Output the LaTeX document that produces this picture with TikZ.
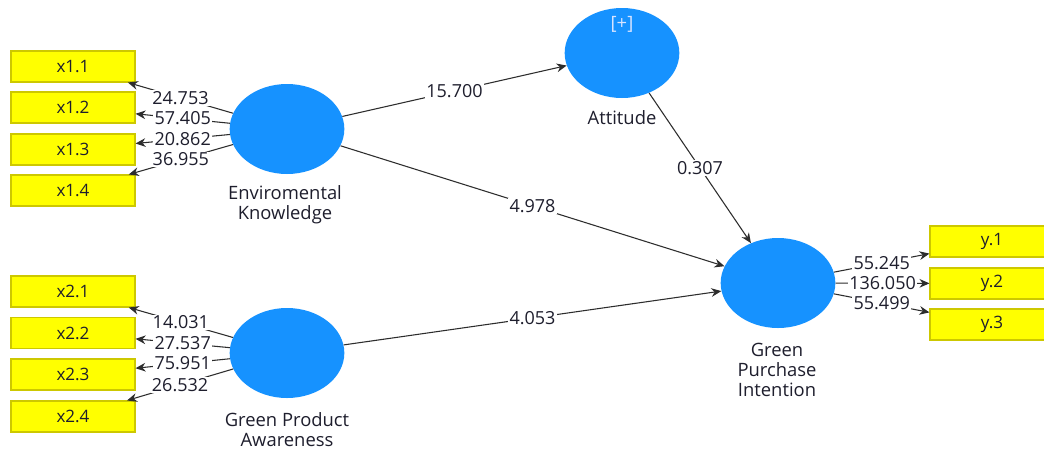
\documentclass[tikz,border=0pt]{standalone}
\usepackage{fontspec}
\setmainfont{Open Sans}
\usetikzlibrary{shapes.geometric,arrows.meta}
\definecolor{lvblue}{RGB}{22,146,255}
\definecolor{indyel}{RGB}{255,255,0}
\definecolor{indbord}{RGB}{205,200,0}
\definecolor{txt}{RGB}{30,30,45}
\definecolor{ln}{RGB}{45,45,45}
\definecolor{plustxt}{RGB}{215,228,255}
\tikzset{
  latent/.style={ellipse,fill=lvblue,draw=none,minimum width=86pt,minimum height=67.5pt,inner sep=0pt},
  ind/.style={rectangle,fill=indyel,draw=indbord,line width=0.8pt,minimum width=93pt,minimum height=23.25pt,inner sep=0pt,font=\fontsize{12.8}{15}\selectfont,text=txt},
  cname/.style={align=center,font=\fontsize{13.8}{15}\selectfont,text=txt},
  conn/.style={draw=ln,line width=0.8pt,-{Stealth[length=7.5pt,width=6.5pt]}},
  lab/.style={fill=white,inner sep=1pt,font=\fontsize{13.5}{15}\selectfont,text=txt}
}
\begin{document}
\begin{tikzpicture}[x=0.75pt,y=-0.75pt]
\clip (0,0) rectangle (1044,450);
\fill[white] (0,0) rectangle (1044,450);
% latent variables
\node[latent] (ek) at (287,129) {};
\node[latent] (gpa) at (287,353) {};
\node[latent] (att) at (622,53) {};
\node[latent] (gpi) at (778,283) {};
% indicators
\node[ind] (x11) at (73,66.5) {x1.1};
\node[ind] (x12) at (73,107.5) {x1.2};
\node[ind] (x13) at (73,149.5) {x1.3};
\node[ind] (x14) at (73,190.5) {x1.4};
\node[ind] (x21) at (73,291.5) {x2.1};
\node[ind] (x22) at (73,333) {x2.2};
\node[ind] (x23) at (73,374.5) {x2.3};
\node[ind] (x24) at (73,416.5) {x2.4};
\node[ind] (y1) at (992,241.5) {y.1};
\node[ind] (y2) at (992,283.5) {y.2};
\node[ind] (y3) at (992,324.5) {y.3};
% names
\node[cname] (nek) at (285,205) {Enviromental\\Knowledge};
\node[cname] (ngpa) at (287,430) {Green Product\\Awareness};
\node[cname] (ngpi) at (777,370) {Green\\Purchase\\Intention};
\node[cname] (natt) at (622,118) {Attitude};
\node[cname,text=plustxt] (plus) at (622,24) {[+]};
% connectors
\foreach \a/\b in {ek/x11,ek/x12,ek/x13,ek/x14,gpa/x21,gpa/x22,gpa/x23,gpa/x24,gpi/y1,gpi/y2,gpi/y3,ek/att,ek/gpi,att/gpi,gpa/gpi}
  \draw[conn] (\a) -- (\b);
% labels
\path (ek) -- (x11) node[lab,pos=.5] {24.753};
\path (ek) -- (x12) node[lab,pos=.5] {57.405};
\path (ek) -- (x13) node[lab,pos=.5] {20.862};
\path (ek) -- (x14) node[lab,pos=.5] {36.955};
\path (gpa) -- (x21) node[lab,pos=.5] {14.031};
\path (gpa) -- (x22) node[lab,pos=.5] {27.537};
\path (gpa) -- (x23) node[lab,pos=.5] {75.951};
\path (gpa) -- (x24) node[lab,pos=.5] {26.532};
\path (gpi) -- (y1) node[lab,pos=.5] {55.245};
\path (gpi) -- (y2) node[lab,pos=.5] {136.050};
\path (gpi) -- (y3) node[lab,pos=.5] {55.499};
\path (ek) -- (att) node[lab,pos=.5] {15.700};
\path (ek) -- (gpi) node[lab,pos=.5] {4.978};
\path (att) -- (gpi) node[lab,pos=.5] {0.307};
\path (gpa) -- (gpi) node[lab,pos=.5] {4.053};
\end{tikzpicture}
\end{document}
